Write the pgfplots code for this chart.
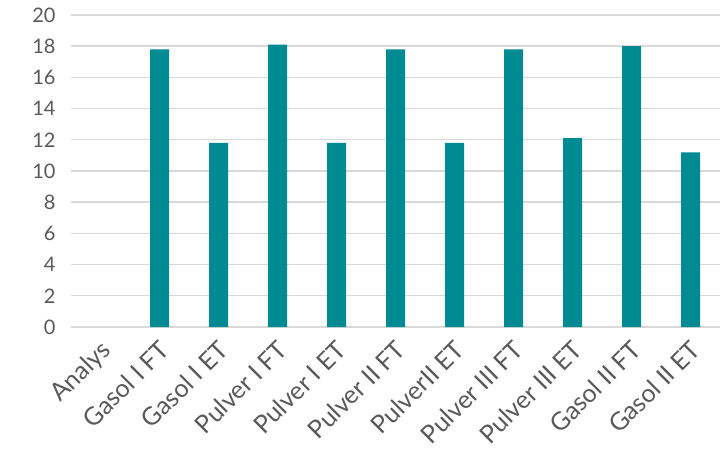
\documentclass[border=0pt]{standalone}
\usepackage{pgfplots}
\pgfplotsset{compat=1.18}
\usepackage{fontspec}
\setmainfont{Lato}
\definecolor{barc}{RGB}{0,138,145}
\definecolor{txt}{RGB}{89,89,89}
\definecolor{gridc}{RGB}{217,217,217}
\begin{document}
\begin{tikzpicture}
\path[use as bounding box] (0,0) rectangle (720bp,452bp);
\begin{axis}[
  at={(71bp,125bp)}, anchor=south west,
  scale only axis, width=649bp, height=312bp,
  xmin=-0.5, xmax=10.5, ymin=0, ymax=20,
  ytick={0,2,...,20},
  xtick={0,...,10},
  xticklabels={Analys,Gasol I FT,Gasol I ET,Pulver I FT,Pulver I ET,Pulver II FT,PulverII ET,Pulver III FT,Pulver III ET,Gasol II FT,Gasol II ET},
  axis line style={draw=none},
  major tick length=0pt,
  ymajorgrids, grid style={gridc, line width=1.4bp},
  tick label style={text=txt},
  yticklabel style={font=\fontsize{20bp}{24bp}\selectfont, xshift=-12bp},
  /pgf/number format/assume math mode=true,
  xticklabel style={font=\fontsize{25bp}{30bp}\selectfont, rotate=45, anchor=north east, inner sep=1bp, xshift=-8bp, yshift=-6bp},
  clip=false,
]
\addplot[ybar, bar width=19bp, fill=barc, draw=none] coordinates {
(1,17.8) (2,11.8) (3,18.1) (4,11.8) (5,17.8) (6,11.8) (7,17.8) (8,12.1) (9,18.0) (10,11.2)
};
\end{axis}
\end{tikzpicture}
\end{document}
